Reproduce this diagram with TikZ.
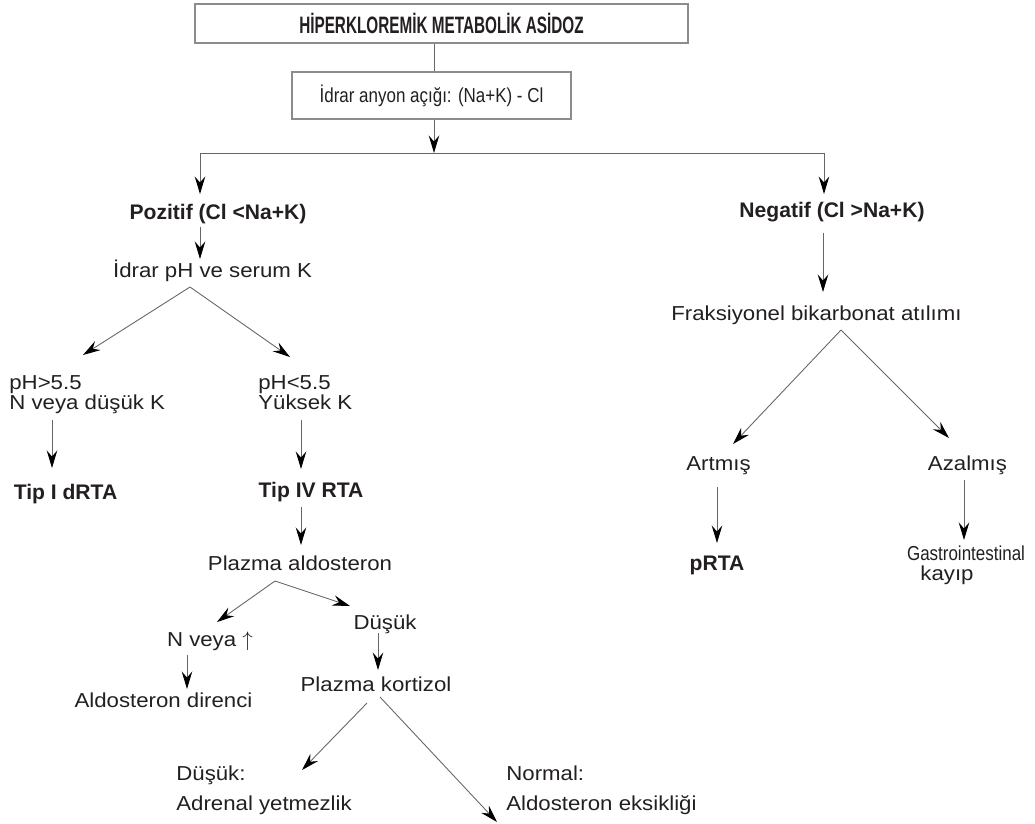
\documentclass[tikz,border=0pt]{standalone}
\usepackage{fontspec}
\setmainfont{Liberation Sans}
\newfontfamily\widefont[FakeStretch=1.1]{Liberation Sans}
\newfontfamily\condfont[FakeStretch=0.84]{Liberation Sans}
\newfontfamily\titlefont[FakeStretch=0.645]{Liberation Sans}
\usetikzlibrary{arrows.meta}
\definecolor{ink}{HTML}{231F20}
\lineskiplimit=-20pt

\begin{document}
\begin{tikzpicture}[x=0.02cm, y=-0.02cm,
    txt/.style={inner sep=0pt, text height=8.2pt, text depth=0pt, text=ink, font=\widefont\fontsize{11.5}{13}\selectfont},
    hdr/.style={txt, text height=8.6pt, font=\fontsize{12}{14}\selectfont\bfseries},
    pair/.style={inner sep=0pt, align=left, anchor=north west, text=ink, font=\widefont\fontsize{11.5}{11.4}\selectfont},
    frame/.style={draw=black!45, line width=0.8pt, inner sep=0pt, text=ink},
    link/.style={draw=black!60, line width=0.5pt},
    arr/.style={link, -{Stealth[length=3.5mm, width=2.1mm, inset=1.2mm, color=black]}}]
    \useasboundingbox (0,0) rectangle (1035,823);

    % The two boxes at the top
    \node[frame, minimum width=9.86cm, minimum height=0.78cm, font=\titlefont\fontsize{13.5}{15}\selectfont\bfseries] (title) at (441.5,23.5) {HİPERKLOREMİK METABOLİK ASİDOZ};
    \node[frame, minimum width=5.58cm, minimum height=0.94cm, font=\condfont\fontsize{11.5}{13}\selectfont] (anyon) at (431.5,95.5) {İdrar anyon açığı: (Na+K) - Cl};

    % Left branch
    \node[hdr] (poz) at (218,212) {Pozitif (Cl <Na+K)};
    \node[txt] (phk) at (212.5,270) {İdrar pH ve serum K};
    \node[pair] (high) at (9,374.8) {pH>5.5\\N veya düşük K};
    \node[pair] (low) at (258,374.8) {pH<5.5\\Yüksek K};
    \node[hdr] (tip1) at (65.5,492) {Tip I dRTA};
    \node[hdr] (tip4) at (311,490) {Tip IV RTA};
    \node[txt] (aldo) at (300,563) {Plazma aldosteron};
    \node[txt] (nveya) at (210,639) {N veya \(\uparrow\)};
    \node[txt] (dusuk) at (385,622) {Düşük};
    \node[txt] (direnc) at (163.5,700) {Aldosteron direnci};
    \node[txt] (kort) at (376,684) {Plazma kortizol};
    \node[pair, font=\widefont\fontsize{11.5}{17}\selectfont] (adrenal) at (176,765.8) {Düşük:\\Adrenal yetmezlik};
    \node[pair, font=\widefont\fontsize{11.5}{17}\selectfont] (normal) at (506,765.8) {Normal:\\Aldosteron eksikliği};

    % Right branch
    \node[hdr] (neg) at (832,210) {Negatif (Cl >Na+K)};
    \node[txt] (fbk) at (816.5,313) {Fraksiyonel bikarbonat atılımı};
    \node[txt] (art) at (718.5,463) {Artmış};
    \node[txt] (aza) at (967.5,463) {Azalmış};
    \node[hdr] (prta) at (717,563) {pRTA};
    \node[txt, font=\condfont\fontsize{11.5}{13}\selectfont] (gis) at (966,553) {Gastrointestinal};
    \node[txt] (kayip) at (947,573) {kayıp};

    % Arrow ends
    \coordinate (split) at (434,153);
    \coordinate (barL) at (200,153);
    \coordinate (barR) at (824,153);
    \coordinate (pozE) at (200,194);
    \coordinate (negE) at (824,194);
    \coordinate (phkS) at (200,227);
    \coordinate (phkE) at (200,259);
    \coordinate (fbkS) at (823,233);
    \coordinate (fbkE) at (823,292);
    \coordinate (phkA) at (190,287);
    \coordinate (highE) at (83,355);
    \coordinate (lowE) at (290,357);
    \coordinate (tip1S) at (52,420);
    \coordinate (tip1E) at (52,468);
    \coordinate (tip4S) at (301,420);
    \coordinate (tip4E) at (301,469);
    \coordinate (aldoS) at (301,507);
    \coordinate (aldoE) at (301,545);
    \coordinate (aldoA) at (275,581);
    \coordinate (nveyaE) at (217,622);
    \coordinate (dusukE) at (350,606);
    \coordinate (direncS) at (187,655);
    \coordinate (direncE) at (187,689);
    \coordinate (kortS) at (378,633);
    \coordinate (kortE) at (378,670);
    \coordinate (kortL) at (367,703);
    \coordinate (kortR) at (380,697);
    \coordinate (adrenalE) at (302,770);
    \coordinate (normalE) at (497,822);
    \coordinate (fbkA) at (841,330);
    \coordinate (artE) at (733,444);
    \coordinate (azaE) at (949,438);
    \coordinate (prtaS) at (717,487);
    \coordinate (prtaE) at (717,543);
    \coordinate (gisS) at (964,480);
    \coordinate (gisE) at (964,540);

    % Connectors
    \draw[link] (title.south -| split) -- (anyon.north -| split);
    \draw[arr] (anyon.south -| split) -- (split);
    \draw[link] (barL) -- (barR);
    \draw[arr] (barL) -- (pozE);
    \draw[arr] (barR) -- (negE);
    \draw[arr] (phkS) -- (phkE);
    \draw[arr] (fbkS) -- (fbkE);
    \draw[arr] (phkA) -- (highE);
    \draw[arr] (phkA) -- (lowE);
    \draw[arr] (tip1S) -- (tip1E);
    \draw[arr] (tip4S) -- (tip4E);
    \draw[arr] (aldoS) -- (aldoE);
    \draw[arr] (aldoA) -- (nveyaE);
    \draw[arr] (aldoA) -- (dusukE);
    \draw[arr] (direncS) -- (direncE);
    \draw[arr] (kortS) -- (kortE);
    \draw[arr] (kortL) -- (adrenalE);
    \draw[arr] (kortR) -- (normalE);
    \draw[arr] (fbkA) -- (artE);
    \draw[arr] (fbkA) -- (azaE);
    \draw[arr] (prtaS) -- (prtaE);
    \draw[arr] (gisS) -- (gisE);
\end{tikzpicture}
\end{document}
